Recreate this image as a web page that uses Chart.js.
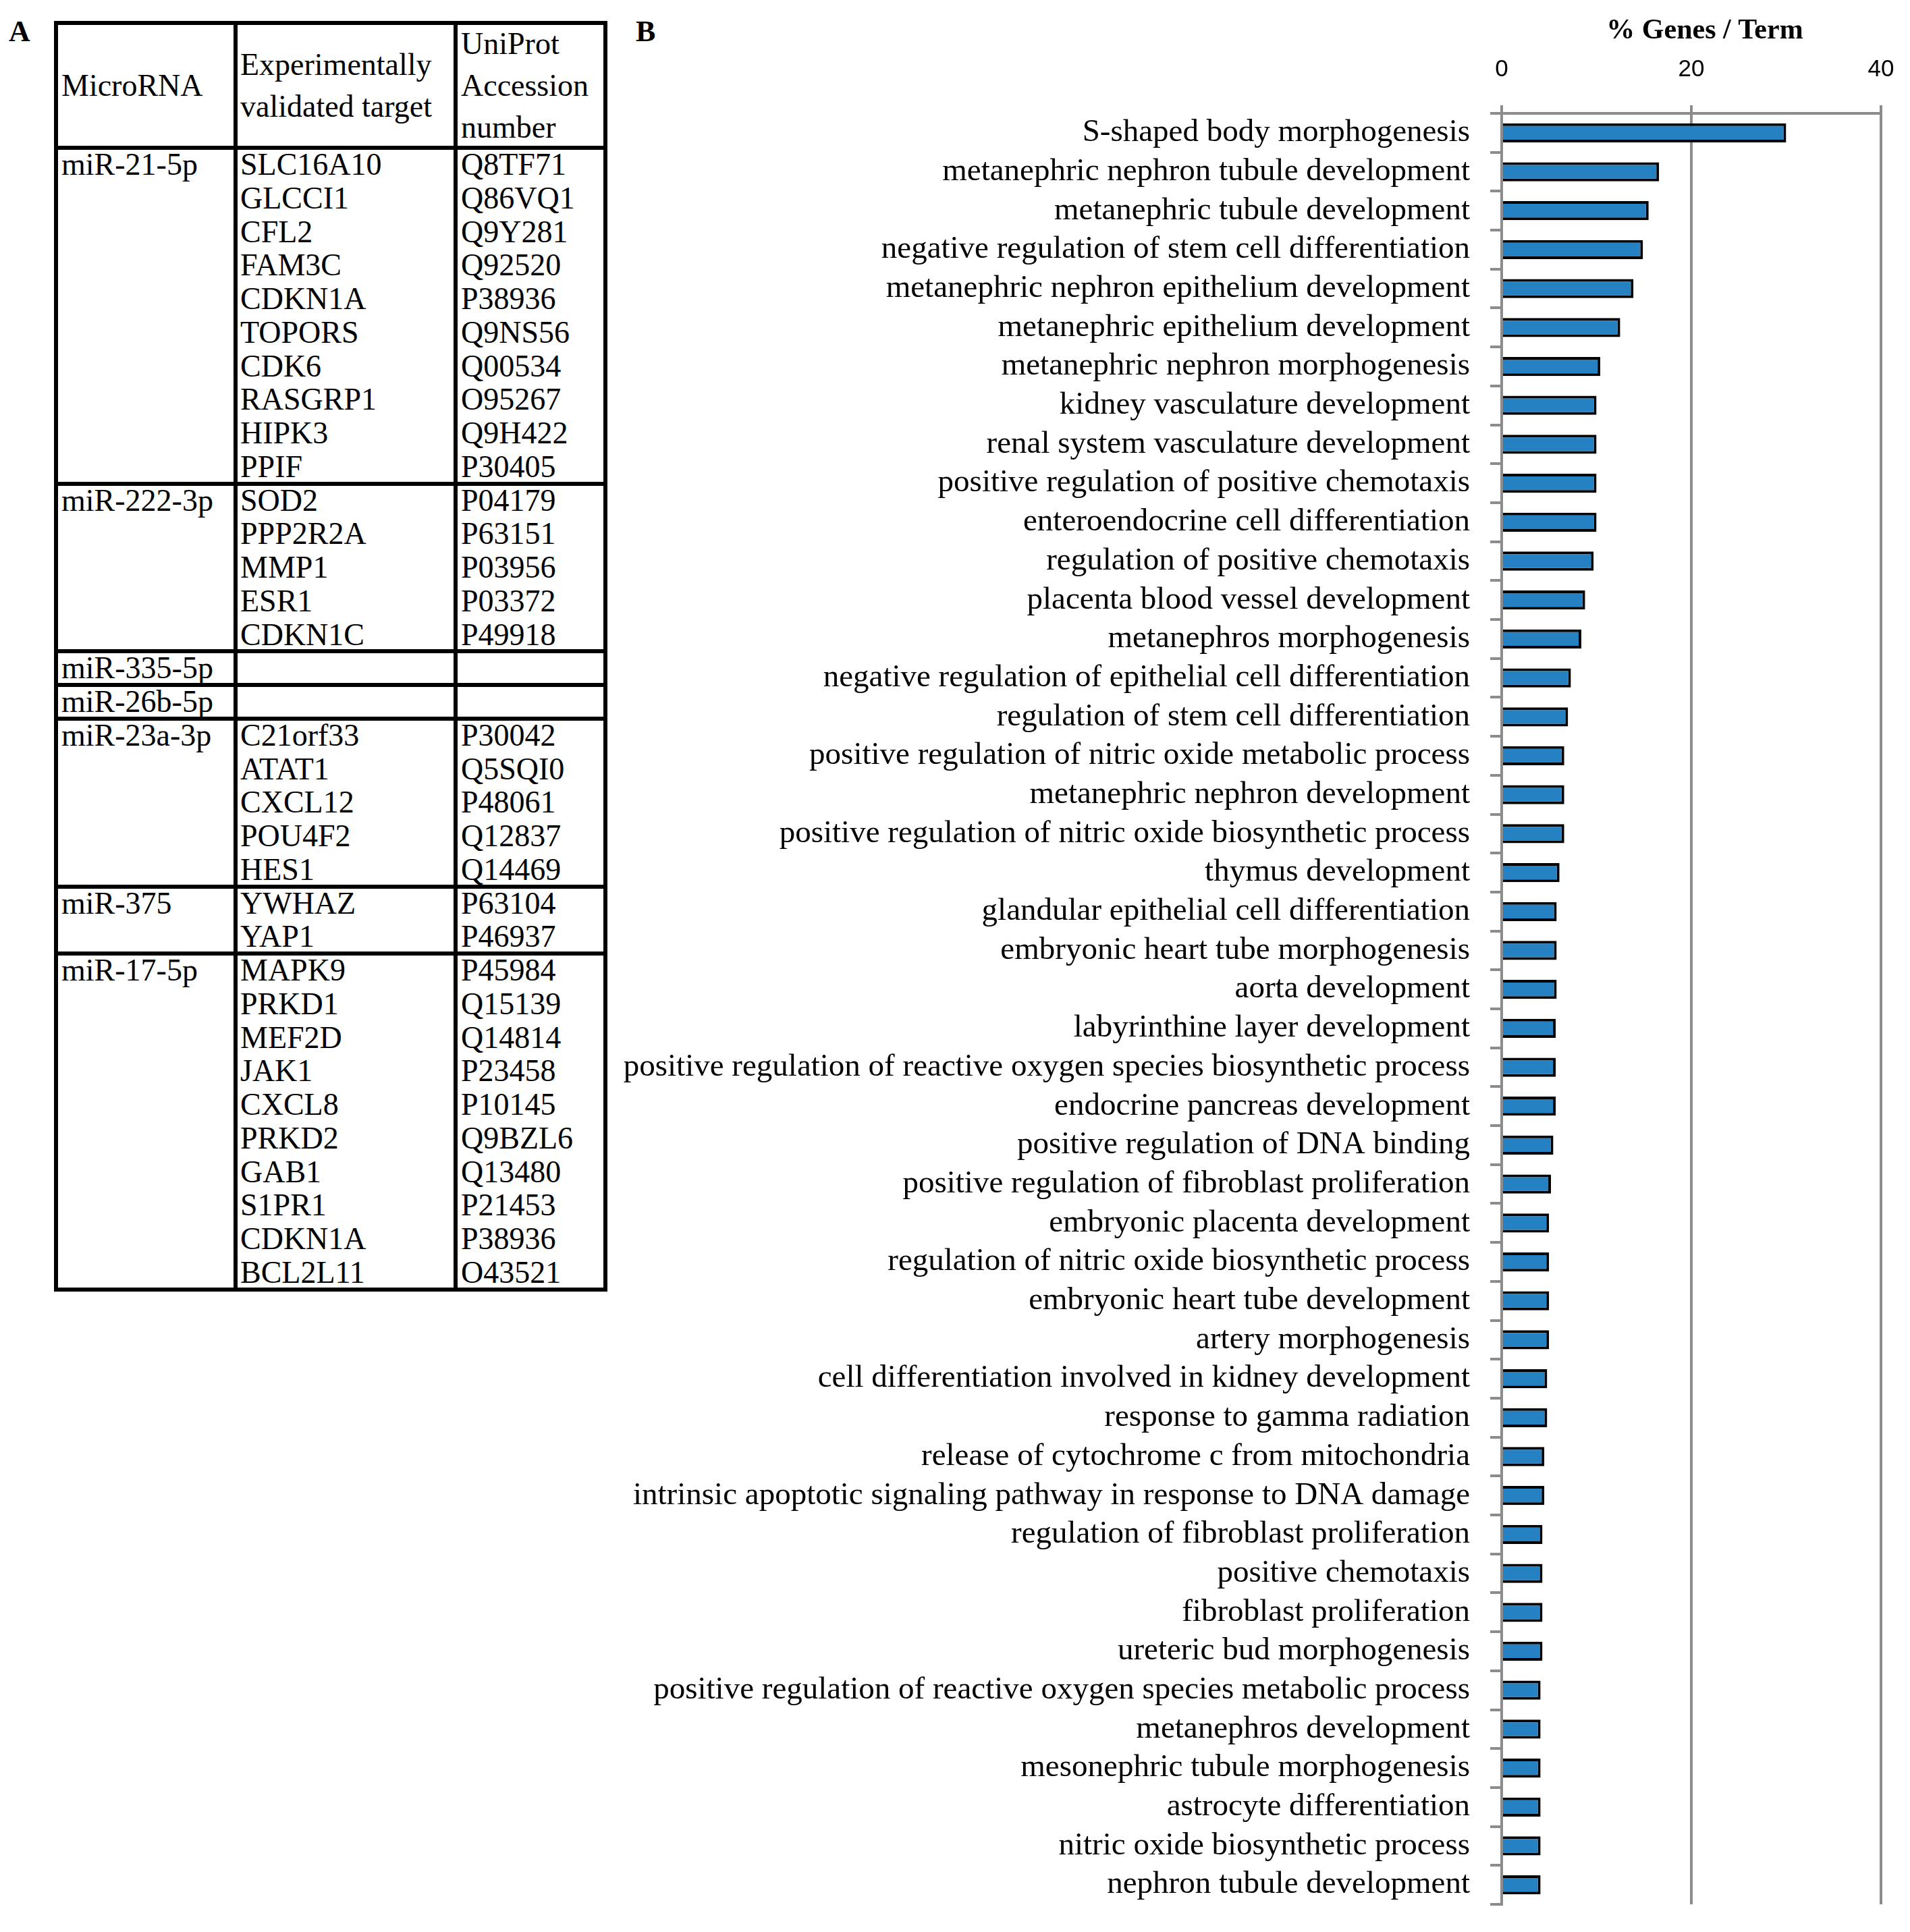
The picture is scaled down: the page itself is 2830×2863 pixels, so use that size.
<!DOCTYPE html>
<html><head><meta charset="utf-8">
<script src="https://cdn.jsdelivr.net/npm/chart.js@4/dist/chart.umd.min.js"></script>
<style>
html,body{margin:0;padding:0;background:#fff;}
#page{position:relative;width:2830px;height:2863px;overflow:hidden;background:#fff;}
.panel{position:absolute;font-family:'Liberation Serif','Times New Roman',serif;font-weight:bold;font-size:44px;line-height:44px;color:#000;}
.ln{position:absolute;background:#000;}
.tx{position:absolute;font-family:'Liberation Serif','Times New Roman',serif;font-size:46px;white-space:nowrap;color:#000;}
.hd{position:absolute;display:flex;flex-direction:column;justify-content:center;font-family:'Liberation Serif','Times New Roman',serif;font-size:46px;line-height:62px;white-space:nowrap;color:#000;}
#chartBox{position:absolute;left:860px;top:0;width:1970px;height:2863px;}
</style></head><body>
<div id="page">
  <div class="panel" style="left:13px;top:25px;">A</div>
  <div class="panel" style="left:942px;top:25px;">B</div>
  <div id="table"></div>
  <div id="chartBox"><canvas id="c" width="1970" height="2863"></canvas></div>
</div>
<script>
// ---------- Table data (panel A) ----------
const tableHeaders = [['MicroRNA'], ['Experimentally', 'validated target'], ['UniProt', 'Accession', 'number']];
const mirnas = ['miR-21-5p', 'miR-222-3p', 'miR-335-5p', 'miR-26b-5p', 'miR-23a-3p', 'miR-375', 'miR-17-5p'];
const targets = [
  ['SLC16A10', 'GLCCI1', 'CFL2', 'FAM3C', 'CDKN1A', 'TOPORS', 'CDK6', 'RASGRP1', 'HIPK3', 'PPIF'],
  ['SOD2', 'PPP2R2A', 'MMP1', 'ESR1', 'CDKN1C'],
  [],
  [],
  ['C21orf33', 'ATAT1', 'CXCL12', 'POU4F2', 'HES1'],
  ['YWHAZ', 'YAP1'],
  ['MAPK9', 'PRKD1', 'MEF2D', 'JAK1', 'CXCL8', 'PRKD2', 'GAB1', 'S1PR1', 'CDKN1A', 'BCL2L11']
];
const accessions = [
  ['Q8TF71', 'Q86VQ1', 'Q9Y281', 'Q92520', 'P38936', 'Q9NS56', 'Q00534', 'O95267', 'Q9H422', 'P30405'],
  ['P04179', 'P63151', 'P03956', 'P03372', 'P49918'],
  [],
  [],
  ['P30042', 'Q5SQI0', 'P48061', 'Q12837', 'Q14469'],
  ['P63104', 'P46937'],
  ['P45984', 'Q15139', 'Q14814', 'P23458', 'P10145', 'Q9BZL6', 'Q13480', 'P21453', 'P38936', 'O43521']
];

// ---------- Chart data (panel B) ----------
const terms = [
  'S-shaped body morphogenesis',
  'metanephric nephron tubule development',
  'metanephric tubule development',
  'negative regulation of stem cell differentiation',
  'metanephric nephron epithelium development',
  'metanephric epithelium development',
  'metanephric nephron morphogenesis',
  'kidney vasculature development',
  'renal system vasculature development',
  'positive regulation of positive chemotaxis',
  'enteroendocrine cell differentiation',
  'regulation of positive chemotaxis',
  'placenta blood vessel development',
  'metanephros morphogenesis',
  'negative regulation of epithelial cell differentiation',
  'regulation of stem cell differentiation',
  'positive regulation of nitric oxide metabolic process',
  'metanephric nephron development',
  'positive regulation of nitric oxide biosynthetic process',
  'thymus development',
  'glandular epithelial cell differentiation',
  'embryonic heart tube morphogenesis',
  'aorta development',
  'labyrinthine layer development',
  'positive regulation of reactive oxygen species biosynthetic process',
  'endocrine pancreas development',
  'positive regulation of DNA binding',
  'positive regulation of fibroblast proliferation',
  'embryonic placenta development',
  'regulation of nitric oxide biosynthetic process',
  'embryonic heart tube development',
  'artery morphogenesis',
  'cell differentiation involved in kidney development',
  'response to gamma radiation',
  'release of cytochrome c from mitochondria',
  'intrinsic apoptotic signaling pathway in response to DNA damage',
  'regulation of fibroblast proliferation',
  'positive chemotaxis',
  'fibroblast proliferation',
  'ureteric bud morphogenesis',
  'positive regulation of reactive oxygen species metabolic process',
  'metanephros development',
  'mesonephric tubule morphogenesis',
  'astrocyte differentiation',
  'nitric oxide biosynthetic process',
  'nephron tubule development'
];
const genePct = [
  30.0, 16.6, 15.5, 14.9, 13.9, 12.5, 10.4, 10.0, 10.0, 10.0,
  10.0, 9.7, 8.8, 8.4, 7.3, 7.0, 6.6, 6.6, 6.6, 6.1,
  5.8, 5.8, 5.8, 5.7, 5.7, 5.7, 5.45, 5.2, 5.0, 5.0,
  5.0, 5.0, 4.8, 4.8, 4.5, 4.5, 4.3, 4.3, 4.3, 4.3,
  4.1, 4.1, 4.1, 4.1, 4.1, 4.1
];
const xTickValues = [0, 20, 40];
const xAxisTitle = '% Genes / Term';

// ---------- Build table ----------
(function buildTable() {
  const host = document.getElementById('table');
  const colX = [83, 349, 675, 897];
  const top = 34, headBottom = 219, rowH = 49.75, lw = 6;
  const pad = [8, 7, 8];
  function line(x, y, w, h) {
    const d = document.createElement('div');
    d.className = 'ln';
    d.style.left = x + 'px'; d.style.top = y + 'px';
    d.style.width = w + 'px'; d.style.height = h + 'px';
    host.appendChild(d);
  }
  function text(str, x, y) {
    const d = document.createElement('div');
    d.className = 'tx';
    d.textContent = str;
    d.style.left = x + 'px'; d.style.top = y + 'px';
    d.style.height = rowH + 'px'; d.style.lineHeight = rowH + 'px';
    host.appendChild(d);
  }
  tableHeaders.forEach((lines, c) => {
    const d = document.createElement('div');
    d.className = 'hd';
    d.style.left = (colX[c] + pad[c]) + 'px';
    d.style.top = top + 'px';
    d.style.height = (headBottom - top) + 'px';
    lines.forEach(s => { const sp = document.createElement('div'); sp.textContent = s; d.appendChild(sp); });
    host.appendChild(d);
  });
  const hys = [top, headBottom];
  let y = headBottom;
  mirnas.forEach((m, g) => {
    const rows = Math.max(1, targets[g].length);
    text(m, colX[0] + pad[0], y);
    for (let i = 0; i < targets[g].length; i++) {
      text(targets[g][i], colX[1] + pad[1], y + i * rowH);
      text(accessions[g][i], colX[2] + pad[2], y + i * rowH);
    }
    y += rows * rowH;
    hys.push(y);
  });
  const bottom = y;
  hys.forEach(hy => line(colX[0] - lw / 2, hy - lw / 2, colX[3] - colX[0] + lw, lw));
  colX.forEach(cx => line(cx - lw / 2, top - lw / 2, lw, bottom - top + lw));
})();

// ---------- Build chart ----------
const GRAY = '#8c8c8c';
const CANVAS_LEFT = 860;
const titlePlugin = {
  id: 'shiftedTitle',
  afterDraw(chart) {
    const ca = chart.chartArea, ctx = chart.ctx;
    ctx.save();
    ctx.font = 'bold 42px "Liberation Serif"';
    ctx.fillStyle = '#000';
    ctx.textAlign = 'center';
    ctx.textBaseline = 'middle';
    ctx.fillText(xAxisTitle, (ca.left + ca.right) / 2 + 20, 46);
    ctx.restore();
  }
};
new Chart(document.getElementById('c'), {
  type: 'bar',
  data: {
    labels: terms,
    datasets: [{
      data: genePct,
      backgroundColor: '#2581c1',
      borderColor: '#000000',
      borderWidth: 4,
      borderSkipped: 'start',
      barPercentage: 0.49,
      categoryPercentage: 1.0
    }]
  },
  options: {
    indexAxis: 'y',
    responsive: false,
    animation: false,
    devicePixelRatio: 1,
    layout: { padding: { left: 0, right: 43, top: 0, bottom: 41 } },
    plugins: { legend: { display: false }, tooltip: { enabled: false } },
    scales: {
      x: {
        position: 'top',
        min: 0, max: 40,
        afterBuildTicks: s => { s.ticks = xTickValues.map(v => ({ value: v })); },
        ticks: { font: { family: 'Liberation Sans', size: 35 }, color: '#000', padding: 32, maxRotation: 0 },
        grid: { color: GRAY, lineWidth: 4, tickLength: 12, drawOnChartArea: true, drawTicks: true },
        border: { color: GRAY, width: 4 },
        title: { display: false, text: xAxisTitle },
        afterFit: s => { s.height = 168; s.paddingLeft = 0; s.paddingRight = 0; }
      },
      y: {
        ticks: { font: { family: 'Liberation Serif', size: 47 }, color: '#000', padding: 30, autoSkip: false },
        grid: { offset: true, drawOnChartArea: false, color: GRAY, lineWidth: 4, tickLength: 17 },
        border: { color: GRAY, width: 4 },
        afterFit: s => { s.width = 2225 - CANVAS_LEFT; s.paddingTop = 0; s.paddingBottom = 0; }
      }
    }
  },
  plugins: [titlePlugin]
});
</script>
</body></html>
